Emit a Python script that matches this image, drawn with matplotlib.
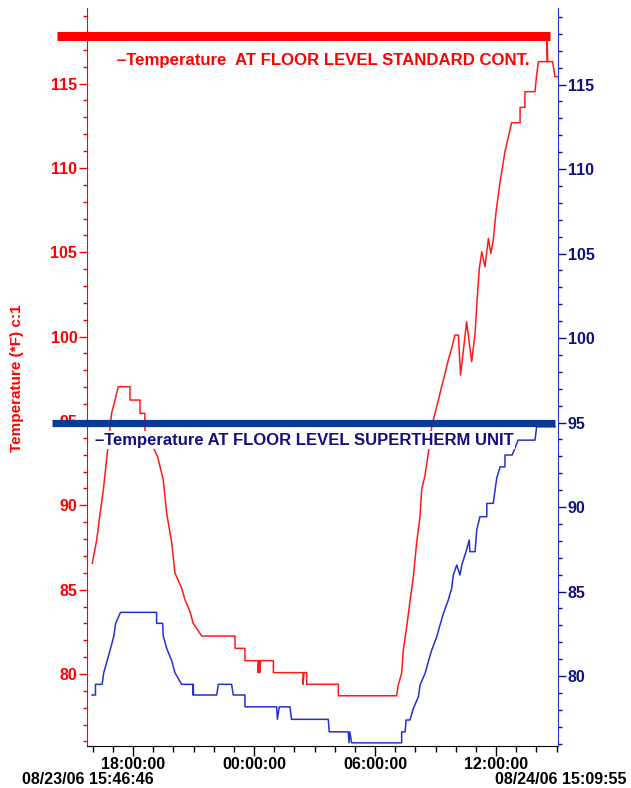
import matplotlib
matplotlib.use("Agg")
import matplotlib.pyplot as plt
from matplotlib.ticker import FixedLocator, MultipleLocator

plt.rcParams['font.family'] = ['Liberation Sans', 'DejaVu Sans']
plt.rcParams['font.weight'] = 'bold'

# ---- data (time in hours since 08/23/06 00:00) ----
red_time = [15.98, 16.20, 16.36, 16.53, 16.70, 16.94, 17.11, 17.27, 17.85, 17.85,
            18.35, 18.35, 18.59, 18.59, 19.22, 19.50, 19.67, 19.92, 20.08, 20.41,
            20.58, 20.83, 20.98, 21.41, 23.06, 23.06, 23.55, 23.55, 24.20, 24.20,
            24.24, 24.28, 24.28, 24.33, 24.96, 24.96, 26.43, 26.43, 26.48, 26.61,
            26.61, 28.18, 28.18, 31.07, 31.15, 31.32, 31.40, 31.57, 31.73, 31.90,
            32.06, 32.23, 32.31, 32.48, 32.64, 32.81, 32.97, 33.14, 33.30, 33.47,
            33.63, 33.80, 33.96, 34.13, 34.24, 34.54, 34.79, 34.96, 35.07, 35.17,
            35.29, 35.45, 35.62, 35.74, 35.86, 36.00, 36.11, 36.20, 36.44, 36.61,
            36.77, 37.19, 37.19, 37.43, 37.43, 37.93, 38.00, 38.10, 38.53, 38.53,
            38.56, 38.80, 38.92, 39.07]
red_temp = [86.56, 87.94, 89.43, 90.91, 92.80, 95.47, 96.24, 97.03, 97.03, 96.24,
            96.24, 95.45, 95.45, 94.46, 92.88, 91.50, 89.54, 87.77, 85.99, 85.10,
            84.39, 83.69, 83.01, 82.25, 82.25, 81.52, 81.52, 80.79, 80.79, 80.08,
            80.79, 80.79, 80.08, 80.79, 80.79, 80.08, 80.08, 79.39, 80.08, 80.08,
            79.39, 79.39, 78.71, 78.71, 79.35, 80.04, 81.42, 82.80, 84.29, 85.77,
            87.75, 89.32, 90.91, 91.80, 93.08, 94.66, 95.45, 96.24, 97.03, 97.82,
            98.61, 99.31, 100.09, 100.09, 97.72, 100.88, 98.51, 100.19, 102.36, 104.04,
            105.03, 104.14, 105.82, 104.93, 105.73, 107.40, 108.39, 109.18, 110.96, 111.85,
            112.68, 112.68, 113.59, 113.59, 114.52, 114.52, 115.41, 116.30, 116.30, 117.60,
            116.30, 116.30, 115.41, 115.41]

blue_time = [15.97, 16.14, 16.14, 16.47, 16.55, 16.72, 16.89, 17.05, 17.14, 17.38,
             19.17, 19.17, 19.47, 19.50, 19.67, 19.92, 20.08, 20.41, 20.98, 20.98,
             20.99, 21.00, 22.15, 22.23, 22.89, 22.97, 23.55, 23.55, 25.12, 25.16,
             25.25, 25.78, 25.86, 27.68, 27.73, 28.67, 28.71, 28.75, 28.84, 31.32,
             31.32, 31.49, 31.54, 31.73, 31.90, 32.15, 32.23, 32.48, 32.64, 32.81,
             33.06, 33.22, 33.39, 33.63, 33.80, 33.88, 34.05, 34.21, 34.30, 34.51,
             34.67, 34.70, 34.96, 35.04, 35.20, 35.54, 35.54, 35.86, 35.95, 36.03,
             36.20, 36.44, 36.44, 36.80, 37.09, 37.93, 38.01, 38.93]
blue_temp = [78.88, 78.88, 79.51, 79.51, 80.20, 80.91, 81.64, 82.37, 83.12, 83.77,
             83.77, 83.12, 83.12, 82.37, 81.64, 80.91, 80.20, 79.51, 79.51, 78.88,
             79.51, 78.88, 78.88, 79.51, 79.51, 78.88, 78.88, 78.18, 78.18, 77.44,
             78.18, 78.18, 77.44, 77.44, 76.70, 76.70, 76.05, 76.70, 76.05, 76.05,
             76.70, 76.70, 77.40, 77.40, 78.09, 78.78, 79.47, 80.16, 80.85, 81.54,
             82.33, 83.02, 83.71, 84.50, 85.19, 85.98, 86.57, 85.98, 86.57, 87.36,
             88.05, 87.36, 87.36, 88.64, 89.43, 89.43, 90.22, 90.22, 91.01, 91.70,
             92.38, 92.38, 93.08, 93.08, 93.96, 93.96, 94.75, 94.75]

red_alarm = 117.8
blue_alarm = 95.0

x_tick_hours = [18, 24, 30, 36]
x_tick_labels = ['18:00:00', '00:00:00', '06:00:00', '12:00:00']
start_label = '08/23/06 15:46:46'
end_label = '08/24/06 15:09:55'
red_name = '\u2013Temperature  AT FLOOR LEVEL STANDARD CONT.'
blue_name = '\u2013Temperature AT FLOOR LEVEL SUPERTHERM UNIT'
y_label = 'Temperature (*F) c:1'

RED = '#ff1a1a'
RED_TXT = '#ff0000'
BLUE_LINE = '#2233cc'
BLUE_BAR = '#0a3a96'
NAVY = '#101080'

fig = plt.figure(figsize=(6.31, 7.88), dpi=100)
ax = fig.add_axes([87/631, (788-745.7)/788, (558-87)/631, (745.7-8)/788])
ax2 = ax.twinx()

ax.set_xlim(15.72, 39.07)
ax.set_ylim(75.75, 119.48)
ax2.set_ylim(75.88, 119.53)

ax.plot(red_time, red_temp, color=RED, lw=1.1, zorder=2)
ax2.plot(blue_time, blue_temp, color=BLUE_LINE, lw=1.1, zorder=2)

ax.axhline(red_alarm, xmin=-0.064, xmax=0.983, color='#ff0000', lw=6.5,
           clip_on=False, zorder=5, solid_capstyle='butt')
ax2.axhline(blue_alarm, xmin=-0.074, xmax=0.9936, color=BLUE_BAR, lw=5.2,
            clip_on=False, zorder=5, solid_capstyle='butt')

# series names with white boxes (they hide the lines behind them)
ax2.text(117/631, (788-60)/788, red_name, transform=fig.transFigure,
         color=RED_TXT, fontsize=12.1, fontweight='bold', ha='left', va='center',
         bbox=dict(facecolor='white', edgecolor='none', pad=1.0), zorder=4)
ax2.text(95/631, (788-440)/788, blue_name, transform=fig.transFigure,
         color=NAVY, fontsize=12.0, fontweight='bold', ha='left', va='center',
         bbox=dict(facecolor='white', edgecolor='none', pad=1.0), zorder=4)

# x axis
ax.xaxis.set_major_locator(FixedLocator(x_tick_hours))
ax.set_xticklabels(x_tick_labels)
ax.xaxis.set_minor_locator(MultipleLocator(1))
ax.tick_params(axis='x', which='major', length=7, width=1, colors='black',
               labelsize=11.5, pad=1)
ax.tick_params(axis='x', which='minor', length=4, width=1, colors='black')
for t in ax.get_xticklabels():
    t.set_fontweight('bold')

# left axis
ax.yaxis.set_major_locator(MultipleLocator(5))
ax.yaxis.set_minor_locator(MultipleLocator(1))
ax.tick_params(axis='y', which='major', length=6, width=1, colors=RED_TXT,
               labelsize=11.5, pad=1)
ax.tick_params(axis='y', which='minor', length=3, width=1, colors=RED_TXT)
for t in ax.get_yticklabels():
    t.set_fontweight('bold')

# right axis
ax2.yaxis.set_major_locator(MultipleLocator(5))
ax2.yaxis.set_minor_locator(MultipleLocator(1))
ax2.tick_params(axis='y', which='major', length=6, width=1, colors=NAVY,
                labelsize=11.5, pad=1)
ax2.tick_params(axis='y', which='minor', length=3, width=1, colors=NAVY)
for t in ax2.get_yticklabels():
    t.set_fontweight('bold')

for a in (ax, ax2):
    a.spines['top'].set_visible(False)
ax.spines['right'].set_visible(False)
ax2.spines['left'].set_visible(False)
ax2.spines['bottom'].set_visible(False)
ax.spines['left'].set_color(RED_TXT)
ax2.spines['right'].set_color(BLUE_LINE)
ax.spines['bottom'].set_color('black')

fig.text(17/631, (788-378)/788, y_label, rotation=90, color=RED_TXT,
         fontsize=11, fontweight='bold', ha='center', va='center')
fig.text(88/631, (788-780)/788, start_label, color='black', fontsize=11.5,
         fontweight='bold', ha='center', va='center')
fig.text(561/631, (788-780)/788, end_label, color='black', fontsize=11.5,
         fontweight='bold', ha='center', va='center')

fig.savefig('out.png', dpi=100)
